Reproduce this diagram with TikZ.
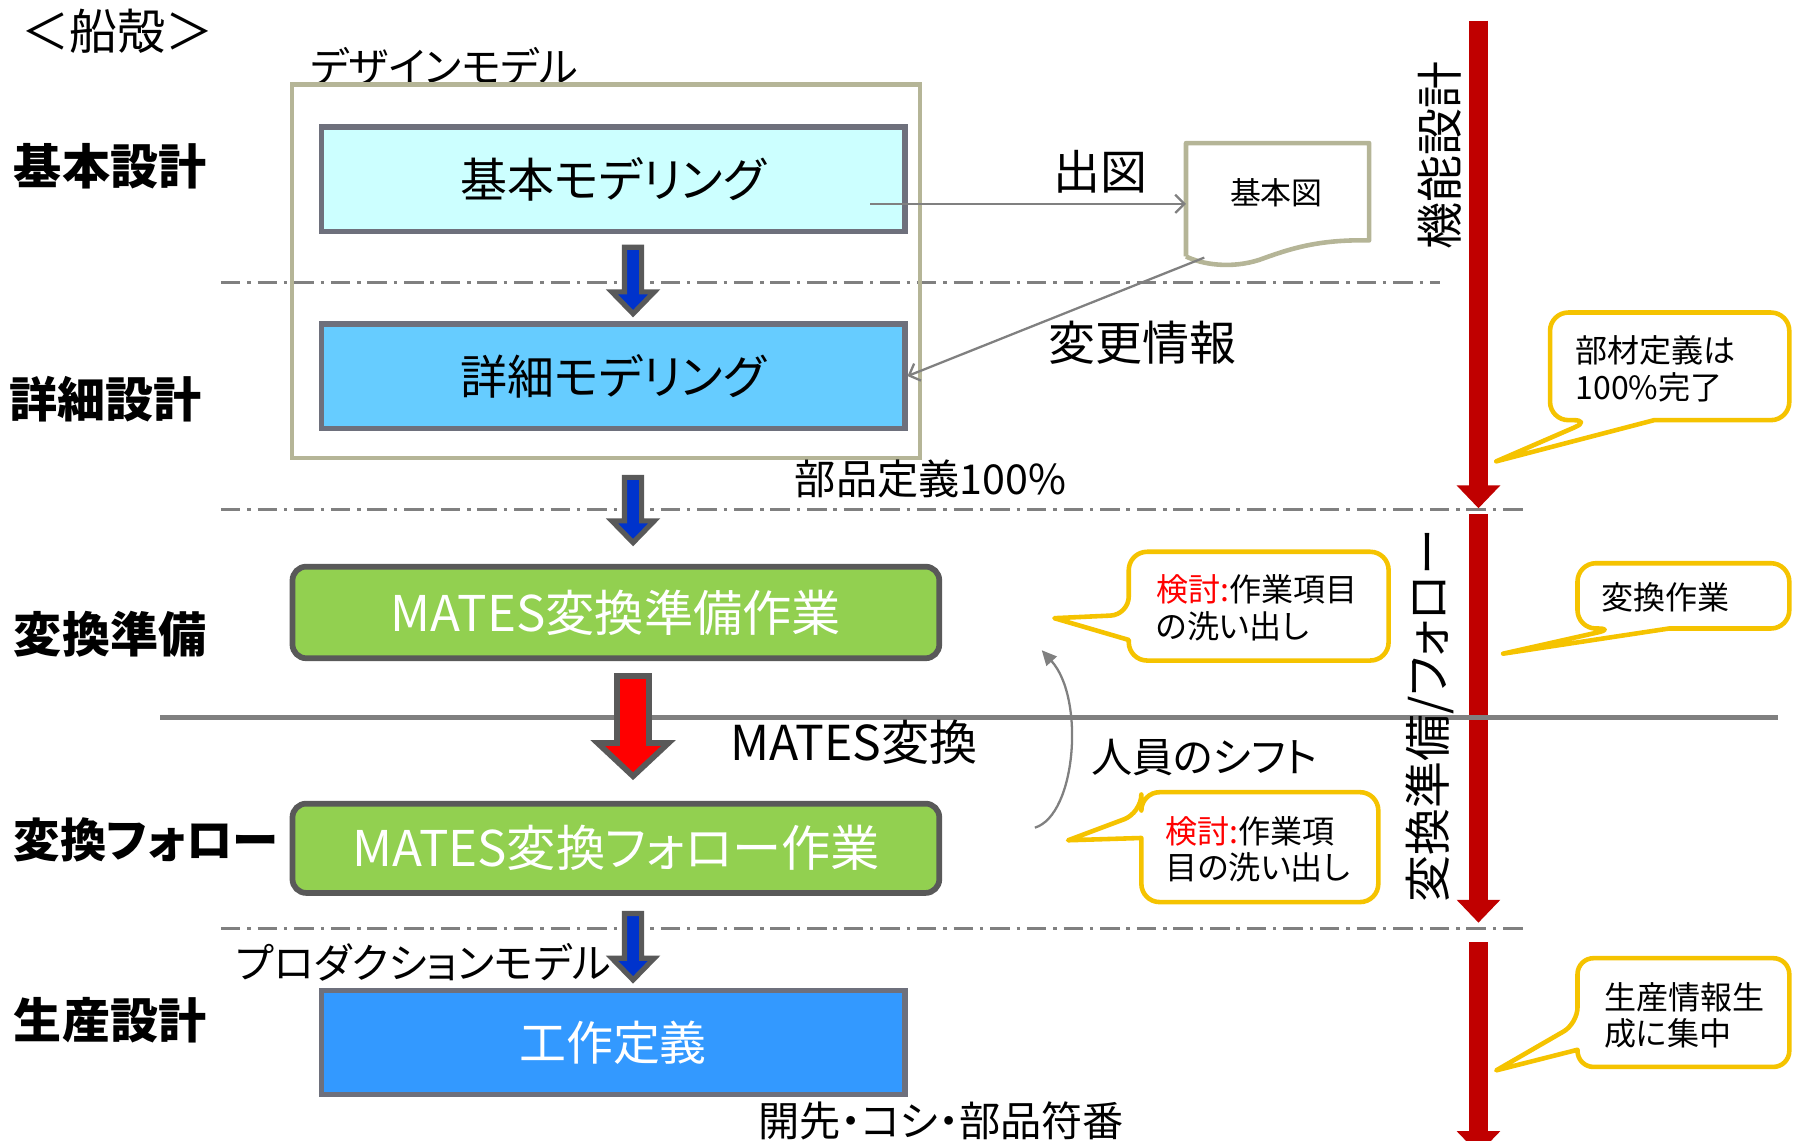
\documentclass[tikz,border=0pt]{standalone}
\usepackage{fontspec}
\setmainfont{Noto Sans CJK JP}[RawFeature=+palt]
\usetikzlibrary{arrows.meta}

\definecolor{framekhaki}{RGB}{181,181,151}
\definecolor{boxline}{RGB}{110,112,124}
\definecolor{darkline}{RGB}{89,89,89}
\definecolor{paleCyan}{RGB}{204,255,255}
\definecolor{skyBlue}{RGB}{102,204,255}
\definecolor{brightBlue}{RGB}{51,153,255}
\definecolor{leafGreen}{RGB}{146,208,80}
\definecolor{arrowBlue}{RGB}{0,51,204}
\definecolor{barRed}{RGB}{192,0,0}
\definecolor{sepGray}{RGB}{128,128,128}
\definecolor{calloutGold}{RGB}{245,195,0}

\tikzstyle{stage}=[inner sep=0pt, anchor=west, font=\bfseries\fontsize{42}{42}\selectfont]
\tikzstyle{txt}=[inner sep=0pt, font=\fontsize{41}{41}\selectfont]
\tikzstyle{midtxt}=[inner sep=0pt, font=\fontsize{36}{36}\selectfont]
\tikzstyle{smalltxt}=[inner sep=0pt, align=left, anchor=west, font=\fontsize{28}{32}\selectfont]
\tikzstyle{modelbox}=[draw=boxline, line width=4.5pt, minimum width=510pt, minimum height=91pt, inner sep=0pt, font=\fontsize{41}{41}\selectfont]
\tikzstyle{matesbox}=[draw=darkline, fill=leafGreen, line width=5pt, rounded corners=12pt, minimum width=565pt, inner sep=0pt, text=white, font=\fontsize{43}{43}\selectfont]
\tikzstyle{dashsep}=[draw=sepGray, line width=2.5pt, dash pattern=on 17pt off 6pt on 3pt off 6pt]
\tikzstyle{thinarr}=[draw=sepGray, line width=2pt, -{Straight Barb[length=8pt,width=16pt]}]
\tikzstyle{bluearr}=[draw=darkline, fill=arrowBlue, line width=4.5pt, line join=miter]
\tikzstyle{redblock}=[draw=darkline, fill=red, line width=5pt, line join=miter]
\tikzstyle{redbar}=[draw=barRed, line width=17pt, -{Triangle[width=37pt,length=20pt]}]
\tikzstyle{yellowcall}=[draw=calloutGold, fill=white, line width=4pt, line join=round]

\begin{document}
\begin{tikzpicture}[x=1pt,y=-1pt]
    \useasboundingbox (0,0) rectangle (1568,996);

    % separators between the design stages
    \draw[dashsep] (193,247) -- (1258,247);
    \draw[dashsep] (193,445) -- (1330,445);
    \draw[dashsep] (193,811) -- (1330,811);

    \foreach \ya/\yb in {18/444, 449/806, 823/1008}
    \draw[redbar] (1291.5,\ya) -- (1291.5,\yb);

    \draw[draw=sepGray, line width=4pt] (140,627) -- (1553,627);

    % stage names
    \node[stage] (s1) at (12,145) {基本設計};
    \node[stage] (s2) at (8,349) {詳細設計};
    \node[stage] (s3) at (12,554) {変換準備};
    \node[stage, font=\bfseries\fontsize{40.5}{40.5}\selectfont] (s4) at (12,734) {変換フォロー};
    \node[stage] (s5) at (12,891) {生産設計};
    \node[txt, font=\fontsize{42}{42}\selectfont\addfontfeature{RawFeature=-palt}] (title) at (103,27) {＜船殻＞};

    % design model
    \node[midtxt] (dmodel) at (388,58) {デザインモデル};
    \draw[draw=framekhaki, line width=4pt] (255,74) rectangle (803.5,400);
    \node[modelbox, fill=paleCyan] (kihon) at (535.5,156.5) {基本モデリング};
    \node[modelbox, fill=skyBlue] (shousai) at (535.5,328.5) {詳細モデリング};

    \node[matesbox, minimum height=80pt] (junbi) at (538,535) {MATES変換準備作業};
    \node[matesbox, minimum height=78pt] (follow) at (538,741) {MATES変換フォロー作業};
    \node[modelbox, fill=brightBlue, text=white] (kousaku) at (535.5,910.5) {工作定義};

    \foreach \ya/\yb in {216/274, 417/474, 798/856}
    \draw[bluearr] (553-7.5,\ya) -- (553+7.5,\ya) -- (553+7.5,\yb-19) -- (553+18.5,\yb-19) -- (553,\yb) -- (553-18.5,\yb-19) -- (553-7.5,\yb-19) -- cycle;

    \draw[redblock] (539,590.5) -- (567,590.5) -- (567,649) -- (584,649) -- (553,678) -- (522,649) -- (539,649) -- cycle;

    \node[txt] (shutsuzu) at (961,150) {出図};
    \node[txt] (henkou) at (998,299) {変更情報};
    \node[midtxt] (buhin) at (813,418) {部品定義100\%};
    \node[txt, font=\fontsize{42}{42}\selectfont] (matesconv) at (746,648) {MATES変換};
    \node[midtxt] (shift) at (1052,662) {人員のシフト};
    \node[midtxt] (prodmodel) at (370,841) {プロダクションモデル};
    \node[midtxt] (kaisaki) at (822,979) {開先・コシ・部品符番};

    % basic drawing sheet
    \draw[draw=framekhaki, line width=4pt, line join=round] (1036,224) -- (1036,125) -- (1196,125) -- (1196,210)
        .. controls (1150,209) and (1125,218) .. (1100,227) .. controls (1075,235) and (1050,231) .. (1036,224);
    \node[inner sep=0pt, font=\fontsize{27}{27}\selectfont] (kihonzu) at (1115,168) {基本図};

    \coordinate (kihonOut) at (760,178);
    \coordinate (docIn) at (1036,178);
    \coordinate (docOut) at (1052,225);
    \draw[thinarr] (kihonOut) -- (docIn);
    \draw[thinarr] (docOut) -- (shousai.east);

    \coordinate (shiftFrom) at (904,723);
    \coordinate (shiftTo) at (910,568);
    \draw[draw=sepGray, line width=2pt, -{Triangle[width=12pt,length=13pt]}] (shiftFrom) .. controls (940,712) and (948,610) .. (shiftTo);

    \node[txt, rotate=90] (kinou) at (1258,136) {機能設計};
    \node[txt, rotate=90] (henkanV) at (1249,625) {変換準備/フォロー};

    % callouts
    \draw[yellowcall] (1307,403) -- (1445,367) [rounded corners=16pt] -- (1563,367) -- (1563,273) -- (1354,273) -- (1354,367) -- (1390,367) [sharp corners] -- cycle;
    \draw[yellowcall] (1313,571) -- (1458,549) [rounded corners=16pt] -- (1563,549) -- (1563,492) -- (1378,492) -- (1378,549) -- (1411,549) [sharp corners] -- cycle;
    \draw[yellowcall] (1307,935) -- (1378,917) [rounded corners=14pt] -- (1378,932) -- (1563,932) -- (1563,837) -- (1378,837) -- (1378,894) [sharp corners] -- cycle;
    \draw[yellowcall] (921,540) -- (986,559) [rounded corners=16pt] -- (986,577) -- (1213,577) -- (1213,482) -- (986,482) -- (986,537) [sharp corners] -- cycle;
    \draw[yellowcall] (933,734) -- (997,732) [rounded corners=16pt] -- (997,788) -- (1204,788) -- (1204,692) -- (997,692) -- (997,710) [sharp corners] -- cycle;

    \node[smalltxt] (c1) at (1376,322) {部材定義は\\100\%完了};
    \node[smalltxt] (c2) at (1399,522) {変換作業};
    \node[smalltxt] (c3) at (1401,887) {生産情報生\\成に集中};
    \node[smalltxt] (c4) at (1010,531) {\textcolor{red}{検討:}作業項目\\の洗い出し};
    \node[smalltxt] (c5) at (1018,742) {\textcolor{red}{検討:}作業項\\目の洗い出し};
\end{tikzpicture}
\end{document}
